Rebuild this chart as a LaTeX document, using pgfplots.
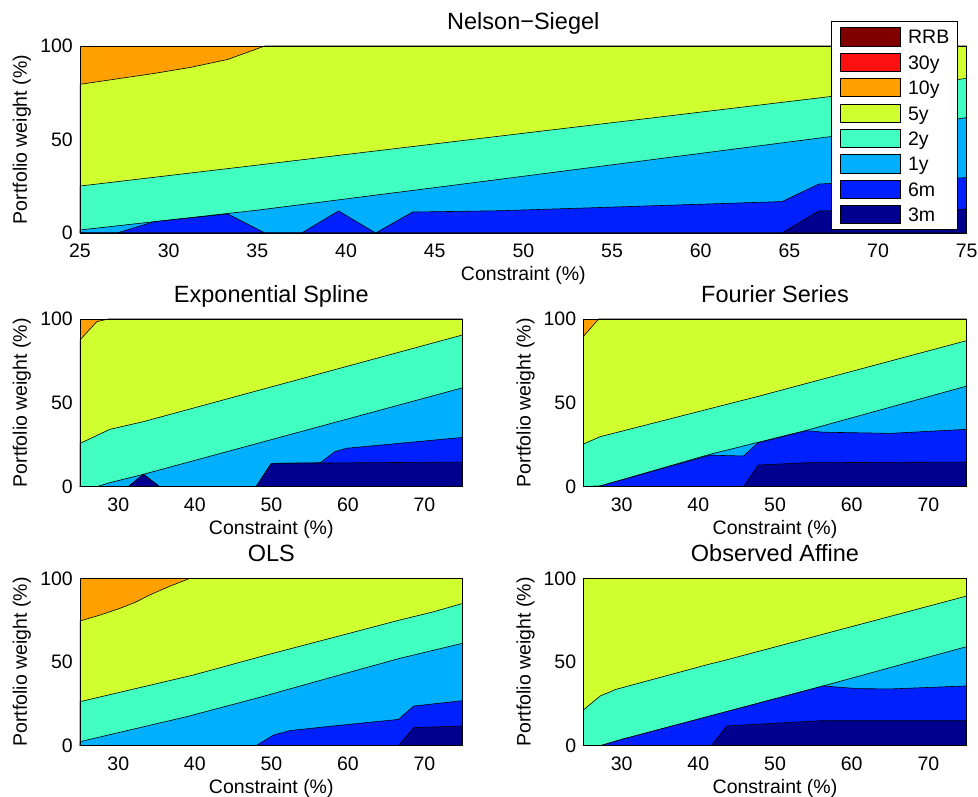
\documentclass[border=0pt]{standalone}
\usepackage{pgfplots}
\pgfplotsset{compat=1.18}
\usepackage{fontspec}
\setmainfont{Liberation Sans}
\newcommand{\lab}{\fontsize{19.5}{23}\selectfont}
\newcommand{\ttl}{\fontsize{23.5}{27}\selectfont}
\definecolor{cRRB}{HTML}{800000}
\definecolor{c30y}{HTML}{FF1010}
\definecolor{c10y}{HTML}{FFA000}
\definecolor{c5y}{HTML}{D0FF30}
\definecolor{c2y}{HTML}{40FFC0}
\definecolor{c1y}{HTML}{00B0FF}
\definecolor{c6m}{HTML}{0020FF}
\definecolor{c3m}{HTML}{000090}
\pgfplotsset{
  base/.style={scale only axis, anchor=south west, xmin=25, xmax=75, ymin=0, ymax=100,
    axis on top, ytick={0,50,100}, major tick length=0pt, tick style={draw=none},
    axis line style={line width=0.8pt},
    ticklabel style={font=\lab},
    xticklabel style={anchor=north, inner sep=0pt, yshift=-11pt},
    yticklabel style={anchor=east, inner sep=0pt, xshift=-7pt},
    /pgf/number format/assume math mode=true},
  lay/.style={fill=#1, draw=black, line width=0.6pt, forget plot},
  legend image code/.code={\draw[#1, draw=black, line width=0.8pt] (0pt,-9.15pt) rectangle (60.4pt,9.15pt);}
}
\begin{document}
\begin{tikzpicture}[x=1pt,y=1pt]
\useasboundingbox (0,0) rectangle (978,797);
% ---------------- Nelson-Siegel
\begin{axis}[base, at={(80pt,564pt)}, width=886.7pt, height=187pt,
  xtick={25,30,...,75},
  legend cell align=left,
  legend style={at={(axis description cs:0.8470,1.131)}, anchor=north west, draw=black, line width=0.8pt,
    fill=white, font=\lab, inner xsep=8.5pt, inner ysep=5.5pt, row sep=6.3pt, column sep=7pt,
    nodes={inner sep=0pt, text height=14pt, text depth=0pt}}]
\addplot[lay=c10y] coordinates {(25,100) (75,100)} \closedcycle;
\addplot[lay=c5y] coordinates {(25,79.5) (27.08,82.4) (29.17,85.3) (31.25,88.6) (33.33,92.8) (35.42,100) (75,100)} \closedcycle;
\addplot[lay=c2y] coordinates {(25,25.1) (35,36.3) (47.6,50.6) (57.5,61.8) (67.7,73.4) (75,82.7)} \closedcycle;
\addplot[lay=c1y] coordinates {(25,1.6) (35,12.2) (47.6,27.4) (67.7,52) (75,61.7)} \closedcycle;
\addplot[lay=c6m] coordinates {(25,0) (27.08,0) (29.17,6.0) (33.33,10.2) (35.42,0) (37.5,0) (39.58,11.8) (41.67,0) (43.75,11.2) (48.7,11.9) (64.58,16.8) (66.67,26.2) (75,29.6)} \closedcycle;
\addplot[lay=c3m] coordinates {(25,0) (64.58,0) (66.67,11.8) (75,12.7)} \closedcycle;
\addlegendimage{fill=cRRB}\addlegendentry{RRB}
\addlegendimage{fill=c30y}\addlegendentry{30y}
\addlegendimage{fill=c10y}\addlegendentry{10y}
\addlegendimage{fill=c5y}\addlegendentry{5y}
\addlegendimage{fill=c2y}\addlegendentry{2y}
\addlegendimage{fill=c1y}\addlegendentry{1y}
\addlegendimage{fill=c6m}\addlegendentry{6m}
\addlegendimage{fill=c3m}\addlegendentry{3m}
\end{axis}
% ---------------- Exponential Spline
\begin{axis}[base, at={(80pt,310.3pt)}, width=382.7pt, height=167.7pt, xtick={30,40,...,70}]
\addplot[lay=c10y] coordinates {(25,100) (75,100)} \closedcycle;
\addplot[lay=c5y] coordinates {(25,87.5) (27.2,98.4) (28.7,100) (75,100)} \closedcycle;
\addplot[lay=c2y] coordinates {(25,25.8) (28.9,34.2) (33.3,38.8) (75,90.5)} \closedcycle;
\addplot[lay=c1y] coordinates {(25,0) (27.2,0) (28.9,2.4) (33.3,7.4) (75,59)} \closedcycle;
\addplot[lay=c6m] coordinates {(25,0) (31.3,0) (33.3,7.4) (35.4,0) (48,0) (50,13.9) (56.4,14.3) (58.3,20.9) (59.8,22.9) (75,29.4)} \closedcycle;
\addplot[lay=c3m] coordinates {(25,0) (31.3,0) (33.3,7.4) (35.4,0) (48,0) (50,13.9) (75,14.7)} \closedcycle;
\end{axis}
% ---------------- Fourier Series
\begin{axis}[base, at={(583.3pt,310.3pt)}, width=383.4pt, height=167.7pt, xtick={30,40,...,70}]
\addplot[lay=c10y] coordinates {(25,100) (75,100)} \closedcycle;
\addplot[lay=c5y] coordinates {(25,89.5) (27,100) (75,100)} \closedcycle;
\addplot[lay=c2y] coordinates {(25,25.4) (27.2,29.8) (48,54.1) (75,87.1)} \closedcycle;
\addplot[lay=c1y] coordinates {(25,0) (27.2,0.4) (41.5,19.3) (54.1,33.6) (75,60)} \closedcycle;
\addplot[lay=c6m] coordinates {(25,0) (27.2,0.4) (41.5,18.8) (45.9,18.3) (47.8,26.2) (54.1,33.4) (56.3,32.5) (65,31.8) (75,34.2)} \closedcycle;
\addplot[lay=c3m] coordinates {(25,0) (45.9,0) (47.8,12.9) (54.1,14.3) (75,14.7)} \closedcycle;
\end{axis}
% ---------------- OLS
\begin{axis}[base, at={(80pt,51.3pt)}, width=382.7pt, height=167.4pt, xtick={30,40,...,70}]
\addplot[lay=c10y] coordinates {(25,100) (75,100)} \closedcycle;
\addplot[lay=c5y] coordinates {(25,74.5) (27.6,78) (30.2,82) (32.2,85.6) (34.1,90) (36.8,95.4) (39.4,100) (75,100)} \closedcycle;
\addplot[lay=c2y] coordinates {(25,26.3) (39.8,42.2) (49.4,54.2) (58,64.5) (66.8,75.1) (71.2,80) (75,85)} \closedcycle;
\addplot[lay=c1y] coordinates {(25,2.4) (38.9,17.3) (48.5,28.9) (58.1,41.2) (66.8,52.2) (75,61.2)} \closedcycle;
\addplot[lay=c6m] coordinates {(25,0) (48,0) (50.3,6.4) (52.4,9) (58.1,11.8) (66.6,15.7) (68.6,23.7) (75,26.9)} \closedcycle;
\addplot[lay=c3m] coordinates {(25,0) (66.6,0) (68.6,10.8) (75,11.8)} \closedcycle;
\end{axis}
% ---------------- Observed Affine
\begin{axis}[base, at={(583.3pt,51.3pt)}, width=383.4pt, height=167.4pt, xtick={30,40,...,70}]
\addplot[lay=c5y] coordinates {(25,100) (75,100)} \closedcycle;
\addplot[lay=c2y] coordinates {(25,21.3) (27.2,29.7) (29.3,33.7) (41.5,48.8) (43.3,50.8) (75,89.4)} \closedcycle;
\addplot[lay=c1y] coordinates {(25,0) (27.2,0) (30.2,4) (41.5,17.7) (56.3,35.7) (75,59.2)} \closedcycle;
\addplot[lay=c6m] coordinates {(25,0) (27.2,0) (30.2,4) (41.5,17.7) (56.3,35.7) (60.7,34.1) (65,33.9) (75,35.7)} \closedcycle;
\addplot[lay=c3m] coordinates {(25,0) (41.7,0) (43.7,11.8) (55.9,14.9) (75,14.9)} \closedcycle;
\end{axis}
% ---------------- titles and labels
\node[anchor=base, font=\ttl, inner sep=0pt] at (523.3,767.5) {Nelson−Siegel};
\node[anchor=base, font=\ttl, inner sep=0pt] at (271.3,494.5) {Exponential Spline};
\node[anchor=base, font=\ttl, inner sep=0pt] at (775,494.5) {Fourier Series};
\node[anchor=base, font=\ttl, inner sep=0pt] at (271.3,235.2) {OLS};
\node[anchor=base, font=\ttl, inner sep=0pt] at (775,235.2) {Observed Affine};
\node[anchor=base, font=\lab, inner sep=0pt] at (523.3,516.5) {Constraint (\%)};
\node[anchor=base, font=\lab, inner sep=0pt] at (271.3,262.8) {Constraint (\%)};
\node[anchor=base, font=\lab, inner sep=0pt] at (775,262.8) {Constraint (\%)};
\node[anchor=base, font=\lab, inner sep=0pt] at (271.3,3.8) {Constraint (\%)};
\node[anchor=base, font=\lab, inner sep=0pt] at (775,3.8) {Constraint (\%)};
\node[anchor=base, font=\lab, inner sep=0pt, rotate=90] at (27,657.5) {Portfolio weight (\%)};
\node[anchor=base, font=\lab, inner sep=0pt, rotate=90] at (27,394.2) {Portfolio weight (\%)};
\node[anchor=base, font=\lab, inner sep=0pt, rotate=90] at (530.5,394.2) {Portfolio weight (\%)};
\node[anchor=base, font=\lab, inner sep=0pt, rotate=90] at (27,135) {Portfolio weight (\%)};
\node[anchor=base, font=\lab, inner sep=0pt, rotate=90] at (530.5,135) {Portfolio weight (\%)};
\end{tikzpicture}
\end{document}
